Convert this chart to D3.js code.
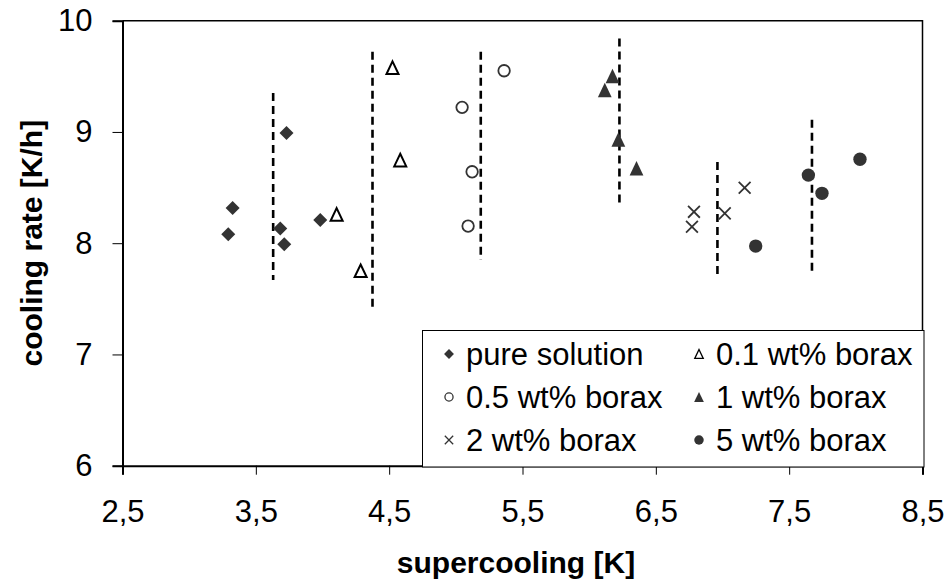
<!DOCTYPE html>
<html>
<head>
<meta charset="utf-8">
<script src="https://cdn.jsdelivr.net/npm/d3@7"></script>
<style>
body { margin: 0; background: #fff; }
text { font-family: "Liberation Sans", Arial, sans-serif; fill: #000; }
</style>
</head>
<body>
<div id="chart"></div>
<script>
// data
var pureX = [3.326, 3.293, 3.683, 3.713, 3.73, 3.983];
var pureY = [8.316, 8.08, 8.133, 7.99, 8.99, 8.208];
var borax01X = [4.525, 4.583, 4.106, 4.286];
var borax01Y = [9.577, 8.747, 8.259, 7.752];
var borax05X = [5.362, 5.047, 5.122, 5.092];
var borax05Y = [9.55, 9.221, 8.642, 8.154];
var borax1X = [6.175, 6.117, 6.219, 6.355];
var borax1Y = [9.503, 9.377, 8.933, 8.673];
var borax2X = [6.786, 6.771, 7.017, 7.166];
var borax2Y = [8.282, 8.148, 8.268, 8.498];
var borax5X = [7.249, 7.644, 7.746, 8.031];
var borax5Y = [7.974, 8.612, 8.448, 8.754];

// dashed vertical ranges
var rangeX = [3.63, 4.375, 5.187, 6.227, 6.962, 7.671];
var rangeTop = [9.35, 9.72, 9.72, 9.84, 8.73, 9.11];
var rangeBottom = [7.67, 7.39, 7.85, 8.34, 7.71, 7.73];

var seriesNames = ["pure solution", "0.1 wt% borax", "0.5 wt% borax", "1 wt% borax", "2 wt% borax", "5 wt% borax"];
var xTicks = [2.5, 3.5, 4.5, 5.5, 6.5, 7.5, 8.5];
var xTickLabels = ["2,5", "3,5", "4,5", "5,5", "6,5", "7,5", "8,5"];
var yTicks = [6, 7, 8, 9, 10];
var yTickLabels = ["6", "7", "8", "9", "10"];

var svgWidth = 946;
var svgHeight = 582;
var margin = { top: 20.7, right: 23.5, bottom: 116.3, left: 122.5 };
var width = svgWidth - margin.left - margin.right;
var height = svgHeight - margin.top - margin.bottom;

var svg = d3.select("#chart").append("svg")
  .attr("width", svgWidth)
  .attr("height", svgHeight);

var chart = svg.append("g")
  .attr("transform", `translate(${margin.left}, ${margin.top})`);

var x = d3.scaleLinear().domain([2.5, 8.5]).range([0, width]);
var y = d3.scaleLinear().domain([6, 10]).range([height, 0]);

// custom marker shapes (excel style)
var diamond = { draw: function(c, s) { var r = Math.sqrt(s) / 2; c.moveTo(0, -r); c.lineTo(r, 0); c.lineTo(0, r); c.lineTo(-r, 0); c.closePath(); } };
var triangle = { draw: function(c, s) { var h = Math.sqrt(s), w = h * 0.95; c.moveTo(0, -h / 2); c.lineTo(w / 2, h / 2); c.lineTo(-w / 2, h / 2); c.closePath(); } };
var cross = { draw: function(c, s) { var r = Math.sqrt(s) / 2; c.moveTo(-r, -r); c.lineTo(r, r); c.moveTo(r, -r); c.lineTo(-r, r); } };

var series = [
  { xs: pureX, ys: pureY, type: diamond, size: 196, fill: "#333", stroke: "none", sw: 0 },
  { xs: borax01X, ys: borax01Y, type: triangle, size: 160, fill: "#fff", stroke: "#000", sw: 2 },
  { xs: borax05X, ys: borax05Y, type: d3.symbolCircle, size: 104, fill: "#fff", stroke: "#333", sw: 1.8 },
  { xs: borax1X, ys: borax1Y, type: triangle, size: 210, fill: "#333", stroke: "none", sw: 0 },
  { xs: borax2X, ys: borax2Y, type: cross, size: 140, fill: "none", stroke: "#333", sw: 1.8 },
  { xs: borax5X, ys: borax5Y, type: d3.symbolCircle, size: 141, fill: "#333", stroke: "none", sw: 0 }
];

// frame (top / right)
chart.append("path")
  .attr("d", `M0,0H${width}V${height}`)
  .attr("fill", "none").attr("stroke", "#000").attr("stroke-width", 1.5);

// axes
var xAxis = chart.append("g")
  .attr("transform", `translate(0, ${height})`)
  .call(d3.axisBottom(x).tickValues(xTicks).tickFormat((d, i) => xTickLabels[i]).tickSize(9).tickPadding(25));
var yAxis = chart.append("g")
  .call(d3.axisLeft(y).tickValues(yTicks).tickFormat((d, i) => yTickLabels[i]).tickSize(10).tickPadding(20));

[xAxis, yAxis].forEach(function(a) {
  a.select(".domain").attr("stroke", "#000").attr("stroke-width", 2);
  a.selectAll(".tick line").attr("stroke", "#000").attr("stroke-width", 1);
  a.selectAll("text").style("font-size", "31px").attr("fill", "#000");
});
xAxis.selectAll("text").attr("dy", "0.71em");

// dashed ranges
chart.selectAll(".range").data(rangeX).enter().append("line")
  .attr("class", "range")
  .attr("x1", d => x(d)).attr("x2", d => x(d))
  .attr("y1", (d, i) => y(rangeTop[i])).attr("y2", (d, i) => y(rangeBottom[i]))
  .attr("stroke", "#000").attr("stroke-width", 2.6).attr("stroke-dasharray", "8,5");

// markers
series.forEach(function(s) {
  var pts = s.xs.map((v, i) => [v, s.ys[i]]);
  chart.selectAll(null).data(pts).enter().append("path")
    .attr("d", d3.symbol(s.type, s.size))
    .attr("transform", d => `translate(${x(d[0])}, ${y(d[1])})`)
    .attr("fill", s.fill).attr("stroke", s.stroke).attr("stroke-width", s.sw);
});

// axis titles
svg.append("text")
  .attr("x", 516).attr("y", 573)
  .attr("text-anchor", "middle")
  .style("font-size", "30px").style("font-weight", "bold")
  .text("supercooling [K]");

svg.append("text")
  .attr("transform", `translate(42, ${margin.top + height / 2}) rotate(-90)`)
  .attr("text-anchor", "middle")
  .style("font-size", "30px").style("font-weight", "bold")
  .text("cooling rate [K/h]");

// legend
var legend = svg.append("g");
legend.append("rect")
  .attr("x", 422.5).attr("y", 330.5).attr("width", 501.5).attr("height", 136.5)
  .attr("fill", "#fff").attr("stroke", "#000").attr("stroke-width", 1);

var colX = [449, 699];
var rowY = [354, 397, 440];
series.forEach(function(s, i) {
  var cx = colX[i % 2], cy = rowY[Math.floor(i / 2)];
  legend.append("path")
    .attr("d", d3.symbol(s.type, s.size * 0.5))
    .attr("transform", `translate(${cx}, ${cy})`)
    .attr("fill", s.fill).attr("stroke", s.stroke).attr("stroke-width", s.sw ? 1.3 : 0);
  legend.append("text")
    .attr("x", cx + 17).attr("y", cy).attr("dy", "0.36em")
    .style("font-size", "31px")
    .text(seriesNames[i]);
});
</script>
</body>
</html>
